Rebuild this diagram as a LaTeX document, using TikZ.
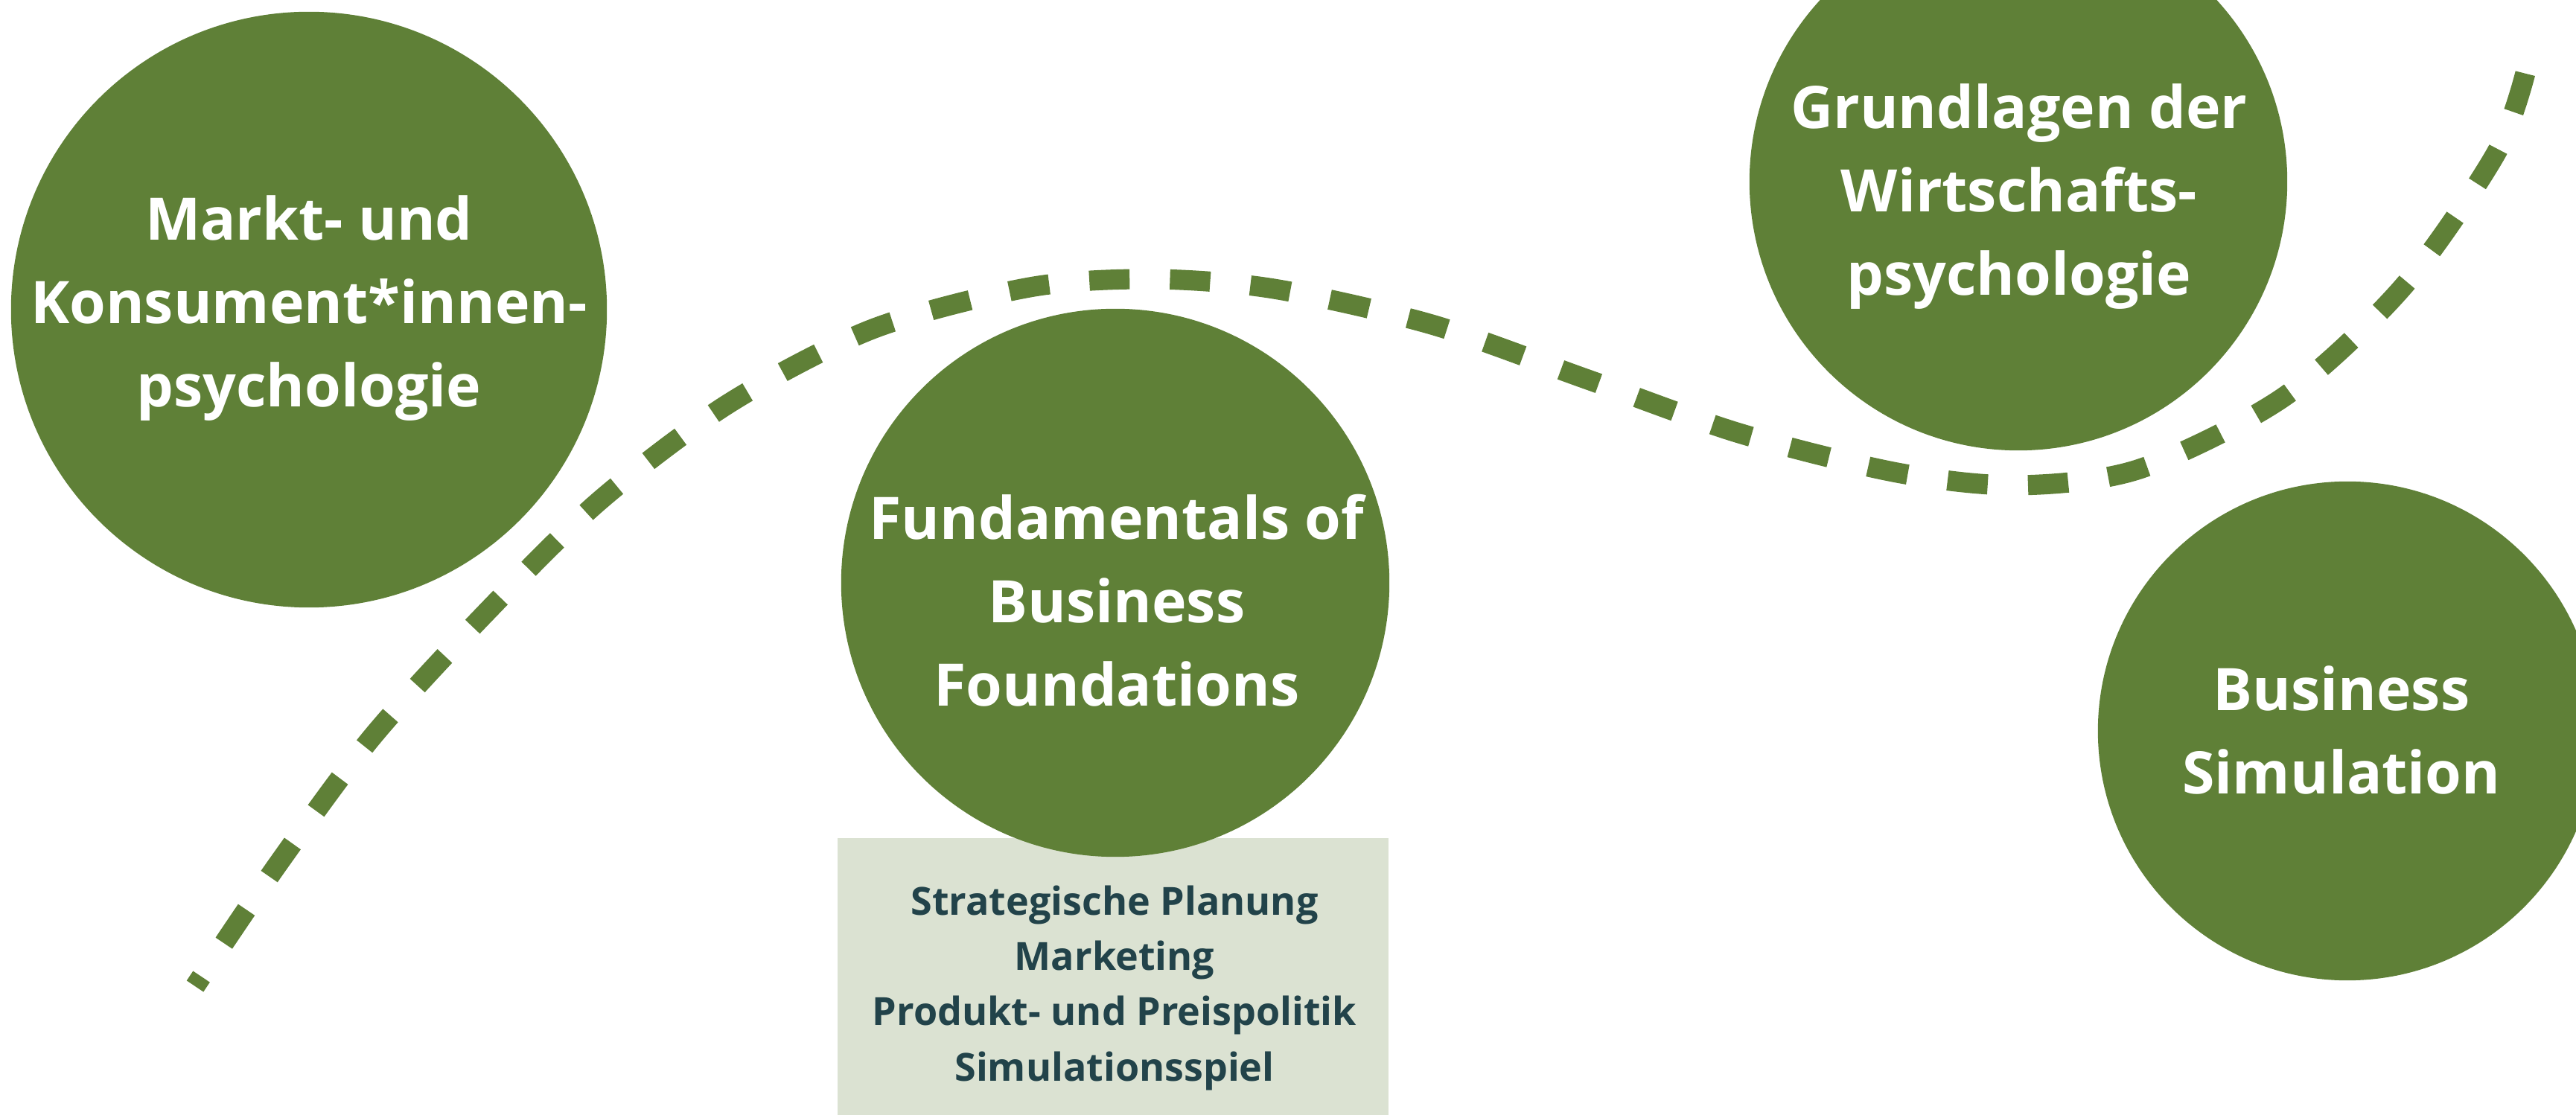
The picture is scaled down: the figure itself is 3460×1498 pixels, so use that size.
\documentclass[tikz,border=0pt]{standalone}
\usepackage{fontspec}
\setmainfont{Open Sans}
\definecolor{mossgreen}{RGB}{95,128,55}
\definecolor{sage}{RGB}{219,226,210}
\definecolor{tealtext}{RGB}{34,67,74}
\tikzset{
  bubble/.style={circle, fill=mossgreen, draw=none, inner sep=0pt, minimum size=#1},
  bubbletext/.style={text=white, font=\fontsize{22.4}{31.9}\selectfont\bfseries, align=center, anchor=base, inner sep=0pt},
  boxtext/.style={text=tealtext, font=\fontsize{14.8}{21.05}\selectfont\bfseries, align=center, anchor=base, inner sep=0pt},
  topicbox/.style={fill=sage, draw=none, inner sep=0pt, anchor=north west, minimum width=7.4cm, minimum height=3.73cm},
  trail/.style={draw=mossgreen, line width=7.7pt, dash pattern=on 15.4pt off 15.4pt, dash phase=11pt}
}
\begin{document}
\begin{tikzpicture}[x=0.01cm, y=-0.01cm]
\useasboundingbox (0,0) rectangle (3460,1498);
\clip (0,0) rectangle (3460,1498);
% dashed trail
\draw[trail] plot[smooth, tension=0.5] coordinates {(262,1325) (374,1160) (500,990) (650,826) (805,673) (979,542) (1172,442) (1383,386) (1547,375) (1711,388) (1923,436) (2130,509) (2336,582) (2548,635) (2710,652) (2874,630) (3068,533) (3228,385) (3352,207) (3392,98)};
% topic box
\node[topicbox] (topics) at (1124,1125) {};
% bubbles
\node[bubble=8cm] (markt) at (415,416) {};
\node[bubble=7.36cm] (fund) at (1498,783) {};
\node[bubble=7.22cm] (grund) at (2711,244) {};
\node[bubble=6.7cm] (sim) at (3153,982) {};
% texts (anchor base = baseline of the last line)
\node[bubbletext] (markt-t) at (415,547) {Markt- und\\Konsument*innen-\\psychologie};
\node[bubbletext] (fund-t) at (1500,949) {Fundamentals of\\Business\\Foundations};
\node[bubbletext] (grund-t) at (2712,397) {Grundlagen der\\Wirtschafts-\\psychologie};
\node[bubbletext] (sim-t) at (3145,1067) {Business\\Simulation};
\node[boxtext] (topics-t) at (1497,1452) {Strategische Planung\\Marketing\\Produkt- und Preispolitik\\Simulationsspiel};
\end{tikzpicture}
\end{document}
